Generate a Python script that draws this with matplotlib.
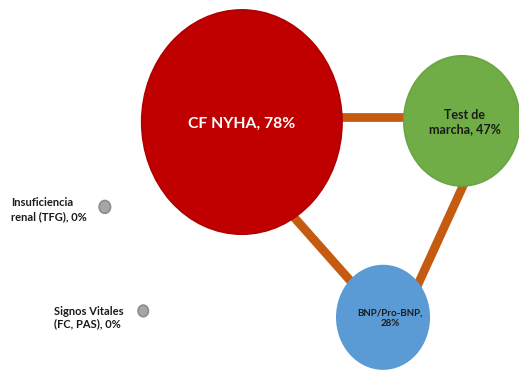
import matplotlib
matplotlib.use("Agg")
import matplotlib.pyplot as plt
from matplotlib.patches import Circle

plt.rcParams['font.family'] = ['Lato', 'DejaVu Sans']

# Nodes of the diagram: indicator name, share of use, position and bubble radius
labels = ["CF NYHA, 78%", "Test de\nmarcha, 47%", "BNP/Pro-BNP,\n28%",
          "Insuficiencia\nrenal (TFG), 0%", "Signos Vitales\n(FC, PAS), 0%"]
values = [78, 47, 28, 0, 0]
node_x = [4.66, 8.90, 7.38, 2.02, 2.76]
node_y = [4.37, 4.39, 1.01, 2.91, 1.12]
node_r = [1.93, 1.12, 0.89, 0.11, 0.10]

# Connectors between the measured indicators
link_x0 = [5.78, 5.20, 9.15]
link_y0 = [4.457, 3.20, 3.717]
link_x1 = [8.48, 7.13, 7.96]
link_y1 = [4.457, 1.256, 1.394]

face_colors = ["#C00000", "#70AD47", "#5B9BD5", "#A6A6A6", "#A6A6A6"]
edge_colors = ["#B00000", "#6AA543", "#5B9BD5", "#8C8C8C", "#8C8C8C"]
text_colors = ["white", "#1A1A1A", "#1A1A1A", "#1A1A1A", "#1A1A1A"]
font_sizes = [11.3, 9, 7, 8, 8]
line_gaps = [1.25, 1.25, 1.25, 1.4, 1.15]
# label placement relative to each bubble, in pixels
text_dx = [0, 3, 7, -18, -20]
text_dy = [-2, -1, -1, -3, -7]
text_ha = ["center", "center", "center", "right", "right"]

fig = plt.figure(figsize=(5.19, 3.76), dpi=100)
ax = fig.add_axes([0, 0, 1, 1])
ax.set_xlim(0, 10)
ax.set_ylim(0, 6.47)
ax.axis("off")

for x0, y0, x1, y1 in zip(link_x0, link_y0, link_x1, link_y1):
    ax.plot([x0, x1], [y0, y1], color="#C55A11", lw=6.3,
            solid_capstyle="butt", zorder=1)

for x, y, r, fc, ec in zip(node_x, node_y, node_r, face_colors, edge_colors):
    ax.add_patch(Circle((x, y), r, facecolor=fc, edgecolor=ec, lw=1.2, zorder=2))

for i, lab in enumerate(labels):
    ax.annotate(lab, (node_x[i], node_y[i]), xytext=(text_dx[i], text_dy[i]),
                textcoords="offset pixels", ha=text_ha[i], va="center",
                multialignment="left" if text_ha[i] == "right" else "center",
                fontsize=font_sizes[i], fontweight="bold", color=text_colors[i],
                linespacing=line_gaps[i], zorder=3)

fig.savefig("out.png", dpi=100)
